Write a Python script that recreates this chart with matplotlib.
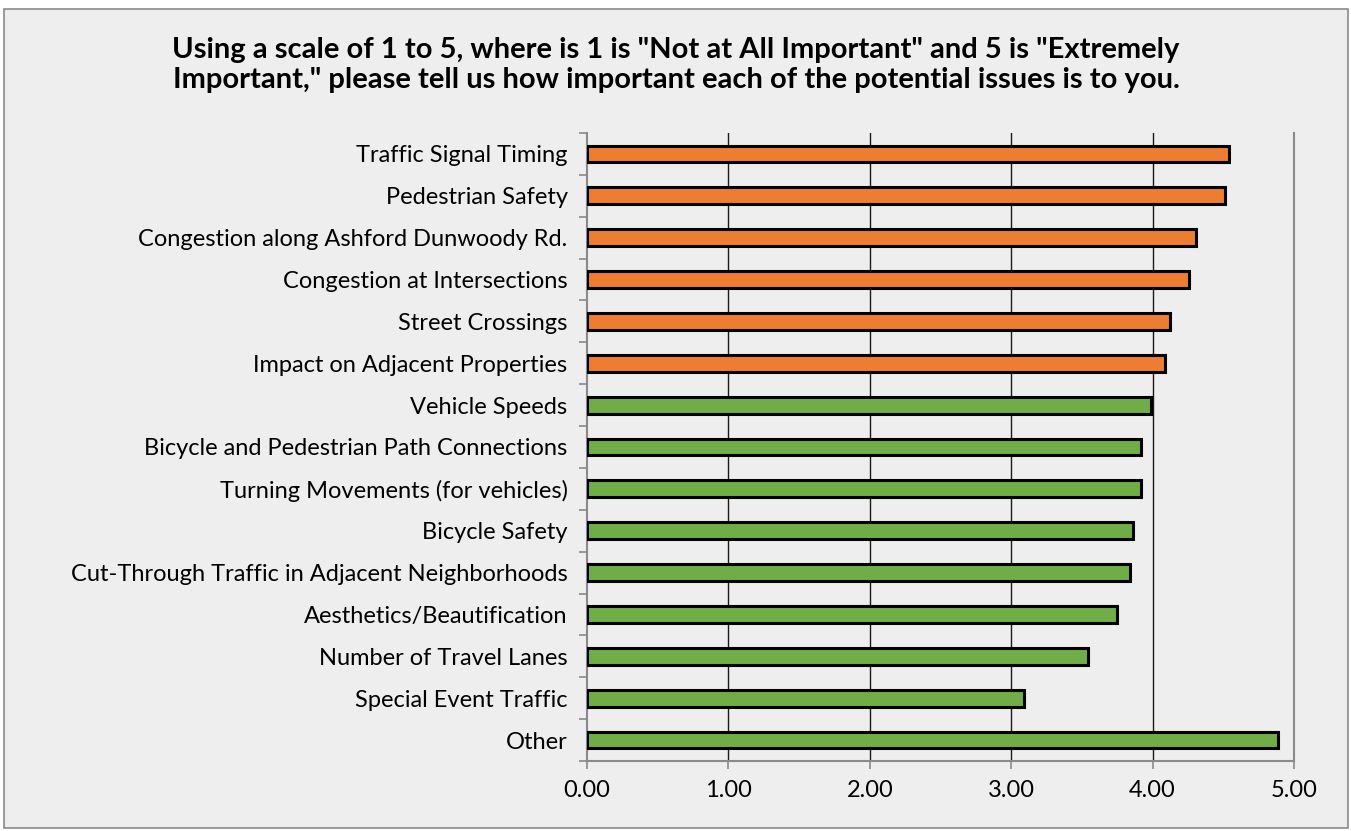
import matplotlib.pyplot as plt
from matplotlib.patches import Rectangle

categories = [
    "Traffic Signal Timing",
    "Pedestrian Safety",
    "Congestion along Ashford Dunwoody Rd.",
    "Congestion at Intersections",
    "Street Crossings",
    "Impact on Adjacent Properties",
    "Vehicle Speeds",
    "Bicycle and Pedestrian Path Connections",
    "Turning Movements (for vehicles)",
    "Bicycle Safety",
    "Cut-Through Traffic in Adjacent Neighborhoods",
    "Aesthetics/Beautification",
    "Number of Travel Lanes",
    "Special Event Traffic",
    "Other",
]
scores = [4.54, 4.51, 4.31, 4.26, 4.12, 4.09, 3.99, 3.92, 3.92, 3.86, 3.84, 3.75, 3.54, 3.09, 4.89]
n_top = 6  # first six are highlighted in orange
xticks = [0, 1, 2, 3, 4, 5]
xticklabels = ["0.00", "1.00", "2.00", "3.00", "4.00", "5.00"]
title = ('Using a scale of 1 to 5, where is 1 is "Not at All Important" and 5 is "Extremely\n'
         'Important," please tell us how important each of the potential issues is to you.')

plt.rcParams['font.family'] = ['Lato', 'DejaVu Sans']

W, H = 1351, 831
fig = plt.figure(figsize=(W / 100, H / 100), dpi=100, facecolor='white')

# chart area background with grey border
fig.patches.append(Rectangle((4 / W, 1 - 828 / H), 1344 / W, 819 / H,
                             transform=fig.transFigure, facecolor='#eeeeee',
                             edgecolor='#8a8a8a', linewidth=1.2, zorder=-5))

ax = fig.add_axes([587 / W, 1 - 761 / H, (1294 - 587) / W, (761 - 133) / H])
ax.set_facecolor('#eeeeee')

colors = ['#ed7d31' if i < n_top else '#70ad47' for i in range(len(categories))]
ypos = list(range(len(categories)))
ax.barh(ypos, scores, height=0.4, color=colors, edgecolor='black', linewidth=2.2, zorder=3)

ax.set_xlim(0, 5)
ax.set_ylim(len(categories) - 0.5, -0.5)
ax.set_xticks(xticks)
ax.set_xticklabels(xticklabels, fontsize=17)
ax.set_yticks(ypos)
ax.set_yticklabels(categories, fontsize=17)

for x in xticks[1:5]:
    ax.axvline(x, color='#1a1a1a', linewidth=1, zorder=1)

ax.spines['top'].set_visible(False)
for side in ['left', 'bottom', 'right']:
    ax.spines[side].set_color('#8a8a8a')
    ax.spines[side].set_linewidth(1.5)

# y tick marks at category boundaries
ax.tick_params(axis='y', length=0, pad=14)
ax.set_yticks([i - 0.5 for i in range(len(categories) + 1)], minor=True)
ax.tick_params(axis='y', which='minor', length=6, width=1.2, color='#8a8a8a', direction='out')
ax.tick_params(axis='x', length=6, width=1.2, color='#8a8a8a', direction='out', pad=8)

fig.text(676 / W, 1 - 65 / H, title, ha='center', va='center', fontsize=21,
         fontweight='bold', linespacing=1.15)

fig.savefig('out.png', dpi=100, facecolor='white')
